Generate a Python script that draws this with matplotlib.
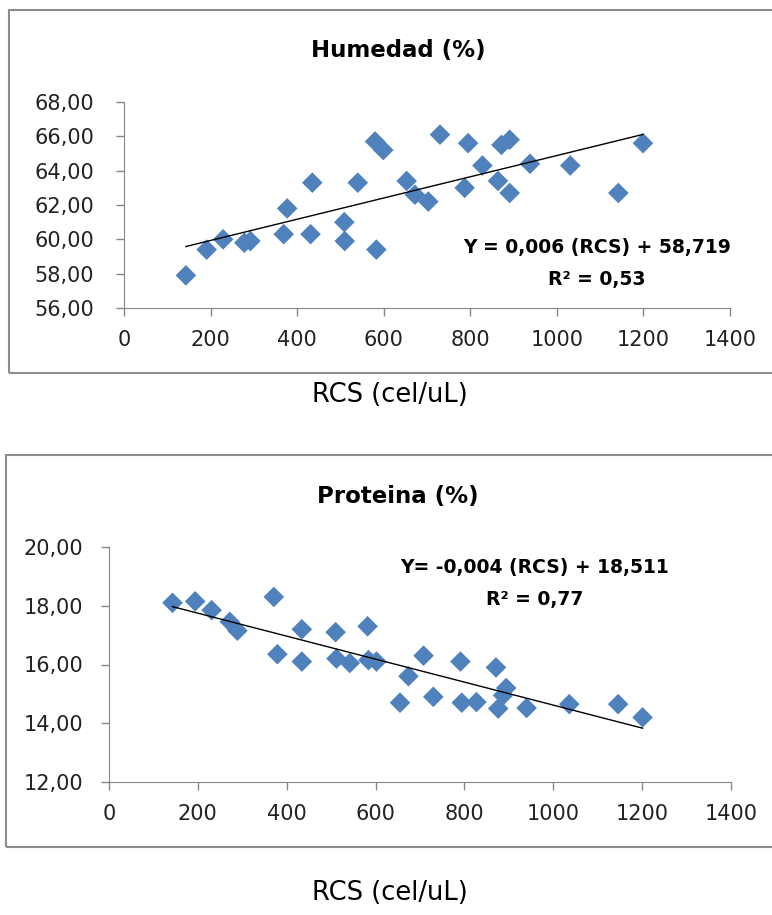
import numpy as np
from matplotlib import pyplot as plt
from matplotlib.patches import Rectangle
from matplotlib.ticker import FuncFormatter

plt.rcParams['font.family'] = ['DejaVu Sans']

# RCS (cel/uL) vs humedad (%)
rcs_hum = [143, 191, 229, 278, 292, 369, 377, 431, 435, 509, 510, 540, 580, 583, 599,
           653, 672, 703, 730, 787, 795, 828, 864, 872, 891, 891, 938, 1031, 1142, 1199]
humedad = [57.9, 59.4, 60.0, 59.8, 59.9, 60.3, 61.8, 60.3, 63.3, 61.0, 59.9, 63.3, 65.7, 59.4, 65.2,
           63.4, 62.6, 62.2, 66.1, 63.0, 65.6, 64.3, 63.4, 65.5, 65.8, 62.7, 64.4, 64.3, 62.7, 65.6]

# RCS (cel/uL) vs proteina (%)
rcs_prot = [143, 194, 231, 272, 289, 371, 379, 434, 434, 510, 512, 542, 582, 584, 602,
            655, 674, 708, 730, 791, 794, 827, 871, 876, 887, 894, 940, 1036, 1146, 1201]
proteina = [18.1, 18.15, 17.85, 17.45, 17.15, 18.3, 16.35, 17.2, 16.1, 17.1, 16.2, 16.05, 17.3, 16.15, 16.1,
            14.7, 15.6, 16.3, 14.9, 16.1, 14.7, 14.72, 15.9, 14.5, 14.95, 15.2, 14.52, 14.65, 14.65, 14.2]

x_ticks = [0, 200, 400, 600, 800, 1000, 1200, 1400]

blue = '#4F81BD'
gray = '#868686'

fig = plt.figure(figsize=(7.72, 9.15), dpi=100)

def px(x, y):
    return x / 772, 1 - y / 915

# frames round each chart
for (x0, y0, x1, y1) in [(9, 10, 790, 373), (6, 455, 790, 847)]:
    l, t = px(x0, y0)
    r, b = px(x1, y1)
    fig.patches.append(Rectangle((l, b), r - l, t - b, transform=fig.transFigure,
                                 fill=False, edgecolor='#8c8c8c', lw=1.5, clip_on=False))

comma = FuncFormatter(lambda v, p: ('%.2f' % v).replace('.', ','))

def panel(rect, xs, ys, ylim, yticks, title, eq, r2, eq_pos, title_y, xlab_y, ypad):
    ax = fig.add_axes(rect)
    ax.scatter(xs, ys, marker='D', s=110, color=blue, edgecolors='none', zorder=3)
    k, c = np.polyfit(xs, ys, 1)
    xl = np.array([min(xs), max(xs)])
    ax.plot(xl, k * xl + c, color='black', lw=1, zorder=4)
    ax.set_xlim(0, 1400)
    ax.set_ylim(*ylim)
    ax.set_xticks(x_ticks)
    ax.set_yticks(yticks)
    ax.yaxis.set_major_formatter(comma)
    for s in ['top', 'right']:
        ax.spines[s].set_visible(False)
    for s in ['left', 'bottom']:
        ax.spines[s].set_color(gray)
    ax.tick_params(colors=gray, length=5.5, width=1, labelcolor='#222222', labelsize=15)
    ax.tick_params(axis='x', pad=10)
    ax.tick_params(axis='y', pad=ypad)
    ax.set_facecolor('none')
    fig.text(*px(398, title_y), title, ha='center', va='center', fontsize=16.5, fontweight='bold')
    fig.text(*px(eq_pos[0], eq_pos[1]), eq, ha='center', va='center', fontsize=13.5, fontweight='bold')
    fig.text(*px(eq_pos[0], eq_pos[1] + 32), r2, ha='center', va='center', fontsize=13.5, fontweight='bold')
    fig.text(*px(390, xlab_y), 'RCS (cel/uL)', ha='center', va='center', fontsize=18.5)
    return ax

panel([124 / 772, 1 - 308 / 915, 606 / 772, 206 / 915], rcs_hum, humedad, (56, 68),
      [56, 58, 60, 62, 64, 66, 68], 'Humedad (%)', 'Y = 0,006 (RCS) + 58,719',
      'R² = 0,53', (597, 247), 50, 395, 16)
panel([109 / 772, 1 - 782 / 915, 622 / 772, 235 / 915], rcs_prot, proteina, (12, 20),
      [12, 14, 16, 18, 20], 'Proteina (%)', 'Y= -0,004 (RCS) + 18,511',
      'R² = 0,77', (535, 567), 497, 893, 13)

fig.savefig('out.png', dpi=100)
